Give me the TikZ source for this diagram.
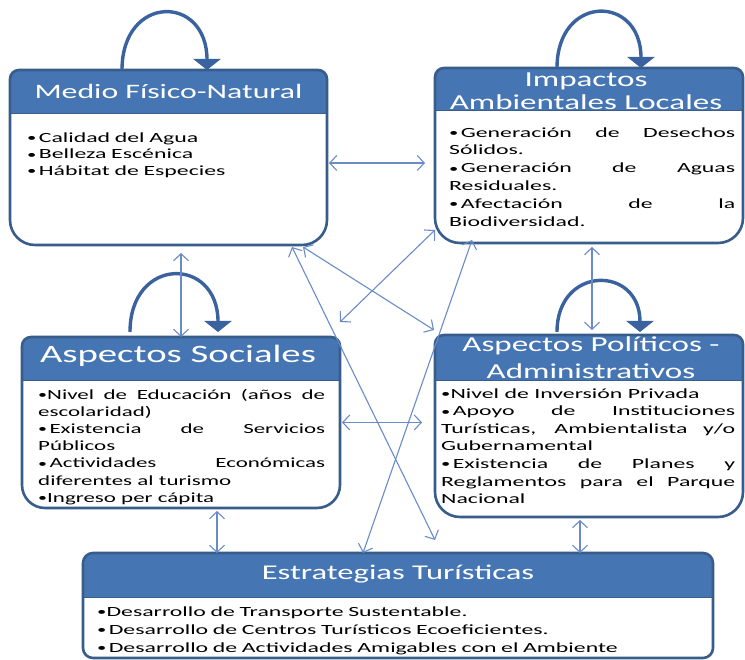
\documentclass[tikz,border=0pt]{standalone}
\usepackage{fontspec}
\setmainfont{Carlito}
\newfontfamily\titlefont{Carlito}[FakeStretch=1.55]
\newfontfamily\bodyfont{Carlito}[FakeStretch=1.7]
\newfontfamily\bodyfontn{Carlito}[FakeStretch=1.64]
\usetikzlibrary{arrows.meta,calc}
\definecolor{headblue}{RGB}{70,117,180}
\definecolor{edgeblue}{RGB}{56,93,138}
\definecolor{loopblue}{RGB}{58,98,158}
\definecolor{linkblue}{RGB}{105,140,200}
\newcommand\nohy{\hyphenpenalty=10000\relax\exhyphenpenalty=10000\relax}
\newcommand\bul{\raisebox{0.6pt}{\fontsize{11}{11}\selectfont•}}
\tikzset{
  boxnode/.style={draw=none, inner sep=0pt, outer sep=0pt},
  titletext/.style={text=white, inner sep=0pt, align=center},
  bodytext/.style={text=black, inner sep=0pt, anchor=north west},
  selfloop/.style={draw=loopblue, line width=3.4pt, -{Triangle[width=27pt,length=11pt]}},
  conn/.style={draw=linkblue, line width=1.1pt, {Straight Barb[length=7pt,width=15pt]}-{Straight Barb[length=7pt,width=15pt]}}
}
\newcommand\drawpanel[4]{%
  \fill[white] ([yshift=-#3]#1.north west) -- ([yshift=#4]#1.south west) arc[start angle=180,end angle=270,radius=#4] -- ([xshift=-#4]#1.south east) arc[start angle=270,end angle=360,radius=#4] -- ([yshift=-#3]#1.north east) arc[start angle=0,end angle=90,radius=#3] -- ([xshift=#3]#1.north west) arc[start angle=90,end angle=180,radius=#3] -- cycle;
  \fill[headblue] ([yshift=-#2]#1.north west) -- ([yshift=-#3]#1.north west) arc[start angle=180,end angle=90,radius=#3] -- ([xshift=-#3]#1.north east) arc[start angle=90,end angle=0,radius=#3] -- ([yshift=-#2]#1.north east) -- cycle;
  \draw[edgeblue, line width=0.8pt] ([yshift=-#2]#1.north west) -- ([yshift=-#2]#1.north east);
  \draw[edgeblue, line width=2.6pt] ([yshift=-#3]#1.north west) -- ([yshift=#4]#1.south west) arc[start angle=180,end angle=270,radius=#4] -- ([xshift=-#4]#1.south east) arc[start angle=270,end angle=360,radius=#4] -- ([yshift=-#3]#1.north east) arc[start angle=0,end angle=90,radius=#3] -- ([xshift=#3]#1.north west) arc[start angle=90,end angle=180,radius=#3] -- cycle;
}
\begin{document}
\begin{tikzpicture}[x=1pt,y=1pt]
\useasboundingbox (0,0) rectangle (745,660);
\fill[white] (0,0) rectangle (745,660);
% panels
\node[boxnode, minimum width=317pt, minimum height=175pt] (b1) at (168.5,502.5) {};
\node[boxnode, minimum width=308pt, minimum height=175pt] (b2) at (589,504.5) {};
\node[boxnode, minimum width=318pt, minimum height=171pt] (b3) at (181,237.5) {};
\node[boxnode, minimum width=308pt, minimum height=182pt] (b4) at (589,234) {};
\node[boxnode, minimum width=630pt, minimum height=105pt] (b5) at (398,54.5) {};
\drawpanel{b1}{43pt}{9pt}{25pt}
\drawpanel{b2}{42pt}{9pt}{25pt}
\drawpanel{b3}{43pt}{9pt}{23pt}
\drawpanel{b4}{45pt}{9pt}{25pt}
\drawpanel{b5}{44pt}{10pt}{10pt}
% titles
\node[titletext, anchor=base, font=\titlefont\fontsize{20.5}{22}\selectfont] (t1) at ($(b1.north)+(0,-29)$) {Medio Físico-Natural};
\node[titletext, anchor=north, font=\titlefont\fontsize{21.3}{23.5}\selectfont] (t2) at ($(b2.north)+(-3,-3)$) {\rule{0pt}{15pt}Impactos\\Ambientales Locales};
\node[titletext, anchor=base, font=\titlefont\fontsize{25}{26}\selectfont] (t3) at ($(b3.north)+(-3,-26)$) {Aspectos Sociales};
\node[titletext, anchor=north, font=\titlefont\fontsize{21.3}{27}\selectfont] (t4) at ($(b4.north)+(2,-1)$) {\rule{0pt}{15pt}Aspectos Políticos -\\Administrativos};
\node[titletext, anchor=base, font=\titlefont\fontsize{21}{22}\selectfont] (t5) at ($(b5.north)+(0,-27)$) {Estrategias Turísticas};
% bodies
\node[bodytext, text width=290pt, align=left, font=\bodyfont\fontsize{14}{16.5}\selectfont] (s1) at ($(b1.north west)+(17,-60)$)
 {\rule{0pt}{12pt}\bul\,Calidad del Agua\\\bul\,Belleza Escénica\\\bul\,Hábitat de Especies};
\node[bodytext, text width=286pt, align=justify, font=\bodyfont\fontsize{14}{17.8}\selectfont\nohy] (s2) at ($(b2.north west)+(14,-57)$)
 {\rule{0pt}{12pt}\bul\,Generación de Desechos\linebreak Sólidos.\\\bul\,Generación de Aguas\linebreak Residuales.\\\bul\,Afectación de la\linebreak Biodiversidad.};
\node[bodytext, text width=287pt, align=justify, font=\bodyfontn\fontsize{14}{17.2}\selectfont\nohy] (s3) at ($(b3.north west)+(16,-50)$)
 {\rule{0pt}{12pt}\bul Nivel de Educación (años de\linebreak escolaridad)\\\bul\,Existencia de Servicios\linebreak Públicos\\\bul\,Actividades Económicas\linebreak diferentes al turismo\\\bul Ingreso per cápita};
\node[bodytext, text width=294pt, align=justify, font=\bodyfont\fontsize{14}{17.6}\selectfont\nohy] (s4) at ($(b4.north west)+(6,-51)$)
 {\rule{0pt}{12pt}\bul Nivel de Inversión Privada\\\bul\,Apoyo de Instituciones\linebreak Turísticas, Ambientalista y/o\linebreak Gubernamental\\\bul\,Existencia de Planes y\linebreak Reglamentos para el Parque\linebreak Nacional};
\node[bodytext, text width=600pt, align=left, font=\bodyfont\fontsize{14}{18}\selectfont] (s5) at ($(b5.north west)+(14,-51)$)
 {\rule{0pt}{12pt}\bul Desarrollo de Transporte Sustentable.\\\bul\,Desarrollo de Centros Turísticos Ecoeficientes.\\\bul\,Desarrollo de Actividades Amigables con el Ambiente};
% self loops
\draw[selfloop] ($(b1.north)+(-46.5,0)$) .. controls +(0,76) and +(0,76) .. ($(b1.north)+(38.5,0)$);
\draw[selfloop] ($(b2.north)+(-32,0)$) .. controls +(0,74) and +(0,74) .. ($(b2.north)+(52,0)$);
\draw[selfloop] ($(b3.north)+(-51,5)$) .. controls +(0,76) and +(0,76) .. ($(b3.north)+(37,5)$);
\draw[selfloop] ($(b4.north)+(-32,3)$) .. controls +(0,67) and +(0,67) .. ($(b4.north)+(51,3)$);
% connectors
\draw[conn] ($(b1.east)+(2,-5.5)$) -- ($(b2.west)+(-10,-7.5)$);
\draw[conn] ($(b3.north |- b1.south)+(0,-8)$) -- (b3.north);
\draw[conn] ($(b2.south)+(3,-4)$) -- ($(b4.north)+(3,5)$);
\draw[conn] ($(b3.east)+(2,0)$) -- ($(b3.east -| b4.west)+(-13,0)$);
\draw[conn] ($(b3.south)+(36,-3)$) -- ($(b5.north)+(-181,0)$);
\draw[conn] ($(b4.south)+(-9,-3)$) -- ($(b5.north)+(182,0)$);
\draw[conn] ($(b1.south east)+(-35,-2)$) -- ($(b5.north)+(37,13)$);
\draw[conn] ($(b1.south east)+(-24,-2)$) -- ($(b4.north west)+(-1,5)$);
\draw[conn] ($(b2.south west)+(0,13)$) -- ($(b3.north east)+(0,15)$);
\draw[conn] ($(b2.south west)+(37,3)$) -- ($(b5.north)+(-35,0)$);
\end{tikzpicture}
\end{document}
